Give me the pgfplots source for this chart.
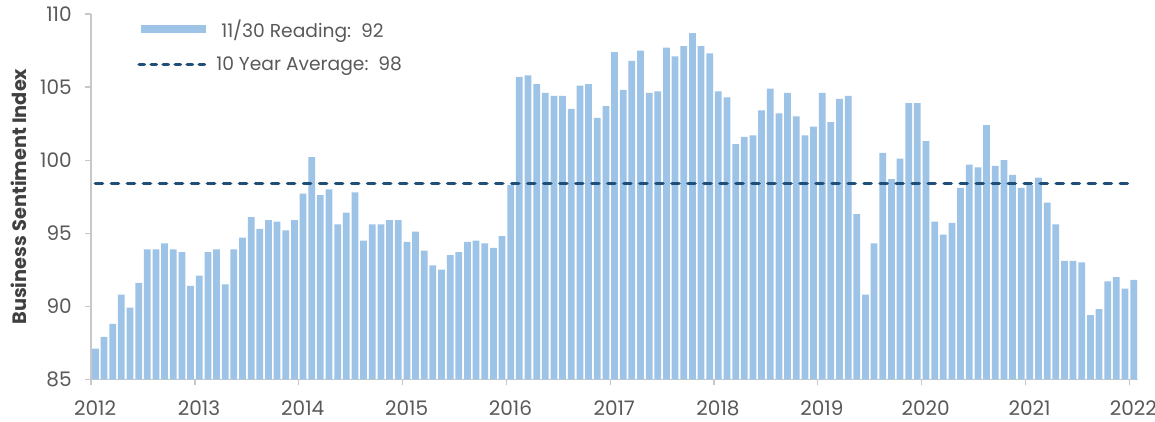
\documentclass[border=0pt]{standalone}
\usepackage{pgfplots}
\pgfplotsset{compat=1.18}
\usepackage{fontspec}
\setmainfont{Poppins}
\definecolor{barblue}{HTML}{9DC3E6}
\definecolor{navy}{HTML}{1F4E79}
\definecolor{tickgray}{HTML}{595959}
\definecolor{labgray}{HTML}{404040}
\definecolor{axgray}{HTML}{C8C8C8}
\pgfplotstableread{
x y
0.5 87.1
1.5 87.9
2.5 88.8
3.5 90.8
4.5 89.9
5.5 91.6
6.5 93.9
7.5 93.9
8.5 94.3
9.5 93.9
10.5 93.7
11.5 91.4
12.5 92.1
13.5 93.7
14.5 93.9
15.5 91.5
16.5 93.9
17.5 94.7
18.5 96.1
19.5 95.3
20.5 95.9
21.5 95.8
22.5 95.2
23.5 95.9
24.5 97.7
25.5 100.2
26.5 97.6
27.5 98.0
28.5 95.6
29.5 96.4
30.5 97.8
31.5 94.5
32.5 95.6
33.5 95.6
34.5 95.9
35.5 95.9
36.5 94.4
37.5 95.1
38.5 93.8
39.5 92.8
40.5 92.5
41.5 93.5
42.5 93.7
43.5 94.4
44.5 94.5
45.5 94.3
46.5 94.0
47.5 94.8
48.5 98.3
49.5 105.7
50.5 105.8
51.5 105.2
52.5 104.6
53.5 104.4
54.5 104.4
55.5 103.5
56.5 105.1
57.5 105.2
58.5 102.9
59.5 103.7
60.5 107.4
61.5 104.8
62.5 106.8
63.5 107.5
64.5 104.6
65.5 104.7
66.5 107.7
67.5 107.1
68.5 107.8
69.5 108.7
70.5 107.8
71.5 107.3
72.5 104.7
73.5 104.3
74.5 101.1
75.5 101.6
76.5 101.7
77.5 103.4
78.5 104.9
79.5 103.2
80.5 104.6
81.5 103.0
82.5 101.7
83.5 102.3
84.5 104.6
85.5 102.6
86.5 104.2
87.5 104.4
88.5 96.3
89.5 90.8
90.5 94.3
91.5 100.5
92.5 98.7
93.5 100.1
94.5 103.9
95.5 103.9
96.5 101.3
97.5 95.8
98.5 94.9
99.5 95.7
100.5 98.1
101.5 99.7
102.5 99.5
103.5 102.4
104.5 99.6
105.5 100.0
106.5 99.0
107.5 98.1
108.5 98.3
109.5 98.8
110.5 97.1
111.5 95.6
112.5 93.1
113.5 93.1
114.5 93.0
115.5 89.4
116.5 89.8
117.5 91.7
118.5 92.0
119.5 91.2
120.5 91.8
}\sentiment
\begin{document}
\begin{tikzpicture}
\path[use as bounding box] (-68.25pt,-31.5pt) rectangle (797.25pt,284.25pt);
\begin{axis}[
  at={(0,0)}, anchor=south west,
  scale only axis, width=784.5pt, height=273.75pt,
  xmin=0, xmax=121, ymin=85, ymax=110,
  axis x line=bottom, axis y line=left,
  axis line style={-, draw=axgray, line width=1.1pt},
  xtick={0,12,...,120},
  xticklabels={2012,2013,2014,2015,2016,2017,2018,2019,2020,2021,2022},
  ytick={85,90,...,110},
  tick style={draw=axgray, line width=0.9pt},
  tick align=outside, major tick length=4.5pt,
  ticklabel style={font=\fontsize{15}{17}\selectfont, text=tickgray},
  xticklabel style={xshift=3pt, yshift=-8pt},
  yticklabel style={xshift=-6.5pt},
  /pgf/number format/assume math mode=true,
  ylabel={Business Sentiment Index},
  ylabel style={font=\fontsize{14.5}{17}\selectfont\bfseries, text=labgray, at={(axis description cs:0,0.5)}, anchor=center, yshift=54pt},
  legend style={draw=none, fill=none, inner sep=0pt, at={(axis description cs:0.044,0.993)}, anchor=north west, font=\fontsize{14}{16}\selectfont, text=tickgray, row sep=9pt, column sep=3.6pt},
  legend cell align=left,
]
\addplot[ybar, bar width=0.78, fill=barblue, draw=none,
  legend image code/.code={\fill[barblue] (2.25pt,-2.9pt) rectangle (51pt,2.9pt);}]
  table[x=x, y=y] {\sentiment};
\addlegendentry{\hspace*{3.75pt}11/30 Reading:\ \ 92}
\addplot[navy, line width=2.7pt, line cap=round, dash pattern=on 5.3pt off 6.7pt,
  legend image code/.code={\draw[navy, line width=2.5pt, line cap=round, dash pattern=on 4pt off 5pt] (1pt,0pt) -- (52pt,0pt);}]
  coordinates {(0.5,98.4) (120.2,98.4)};
\addlegendentry{10 Year Average:\ \ 98}
\end{axis}
\end{tikzpicture}
\end{document}
